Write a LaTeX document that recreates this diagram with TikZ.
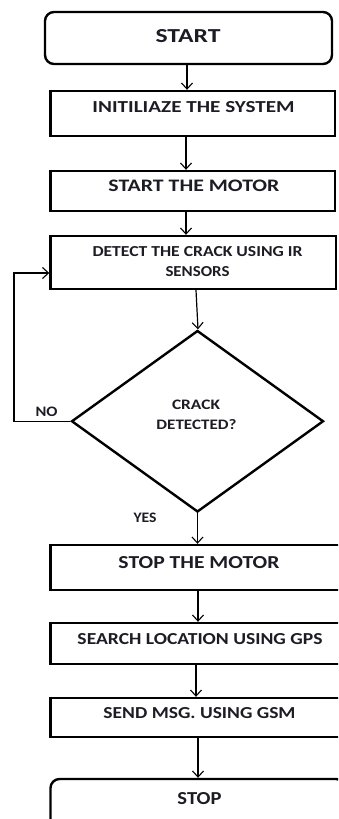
\documentclass[tikz,border=0pt]{standalone}
\usepackage{fontspec}
\usepackage{graphicx}
\setmainfont{Carlito}
\usetikzlibrary{arrows.meta,shapes.geometric}
\definecolor{txt}{RGB}{28,28,36}
\newcommand{\fitlbl}[3]{\resizebox{#1pt}{#2pt}{\bfseries #3}}
\begin{document}
\begin{tikzpicture}[x=1pt,y=-1pt,
  box/.style={draw=black,line width=2.4pt,fill=white,inner sep=0pt},
  term/.style={box,rounded corners=9pt},
  lbl/.style={inner sep=0pt,text=txt,anchor=center},
  arr/.style={draw=black,line width=1.2pt,-{Straight Barb[length=6pt,width=11pt,line width=1.1pt]}}]
\useasboundingbox (0,0) rectangle (338,819);
\begin{scope}
\clip (0,0) rectangle (338,819);
% boxes
\node[term,minimum width=287pt,minimum height=52pt] (start) at (188.5,38) {};
\node[box,minimum width=284.5pt,minimum height=45pt] (init) at (192.75,113.5) {};
\node[box,minimum width=284.5pt,minimum height=40pt] (motor) at (192.75,191) {};
\node[box,minimum width=285.5pt,minimum height=53pt] (detect) at (193.25,262.5) {};
\node[diamond,draw=black,line width=2.4pt,inner sep=0pt,minimum width=252pt,minimum height=181.5pt] (dec) at (197.5,421.25) {};
\node[box,minimum width=294.5pt,minimum height=45pt] (stopm) at (197.75,567.5) {};
\node[box,minimum width=294.5pt,minimum height=41pt] (search) at (197.75,643.5) {};
\node[box,minimum width=294.5pt,minimum height=39pt] (send) at (197.75,717.5) {};
\node[term,minimum width=294.5pt,minimum height=61pt] (stop) at (197.75,809.5) {};
% labels
\node[lbl] (tstart) at (188,36) {\fitlbl{65}{13}{START}};
\node[lbl] (tinit) at (193.5,107.5) {\fitlbl{202}{11}{INITILIAZE THE SYSTEM}};
\node[lbl] (tmotor) at (194,185.5) {\fitlbl{171}{11.5}{START THE MOTOR}};
\node[lbl] (tdet1) at (197.5,252) {\fitlbl{210}{10}{DETECT THE CRACK USING IR}};
\node[lbl] (tdet2) at (197.5,272) {\fitlbl{64}{10}{SENSORS}};
\node[lbl] (tdec1) at (196,404.7) {\fitlbl{48}{9.5}{CRACK}};
\node[lbl] (tdec2) at (196.5,425) {\fitlbl{80}{10}{DETECTED?}};
\node[lbl] (tno) at (46.5,411.7) {\fitlbl{22}{9.5}{NO}};
\node[lbl] (tyes) at (145,518) {\fitlbl{23}{9.5}{YES}};
\node[lbl] (tstopm) at (199,562.7) {\fitlbl{161}{12}{STOP THE MOTOR}};
\node[lbl] (tsearch) at (200,639) {\fitlbl{245}{11}{SEARCH LOCATION USING GPS}};
\node[lbl] (tsend) at (199.5,713.3) {\fitlbl{192}{11}{SEND MSG. USING GSM}};
\node[lbl] (tstop) at (199.5,799) {\fitlbl{44}{12}{STOP}};
% connectors
\draw[arr] ([xshift=-1.5pt]start.south) -- ([xshift=-5.75pt]init.north);
\draw[arr] ([xshift=-6.75pt]init.south) -- ([xshift=-6.75pt]motor.north);
\draw[arr] ([xshift=-6.75pt]motor.south) -- ([xshift=-7.25pt]detect.north);
\draw[arr] ([xshift=2.75pt]detect.south) -- ([xshift=0.5pt]dec.north);
\draw[arr] (dec.south) -- (dec.south |- stopm.north);
\draw[arr] ([xshift=0.25pt]stopm.south) -- ([xshift=0.25pt]search.north);
\draw[arr] ([xshift=-1.75pt]search.south) -- ([xshift=-1.75pt]send.north);
\draw[arr] ([xshift=0.25pt]send.south) -- ([xshift=0.25pt]stop.north);
\draw[arr] (dec.west) -| ([xshift=-35.25pt,yshift=-10.5pt]detect.west) -- ([yshift=-10.5pt]detect.west);
\end{scope}
\end{tikzpicture}
\end{document}
